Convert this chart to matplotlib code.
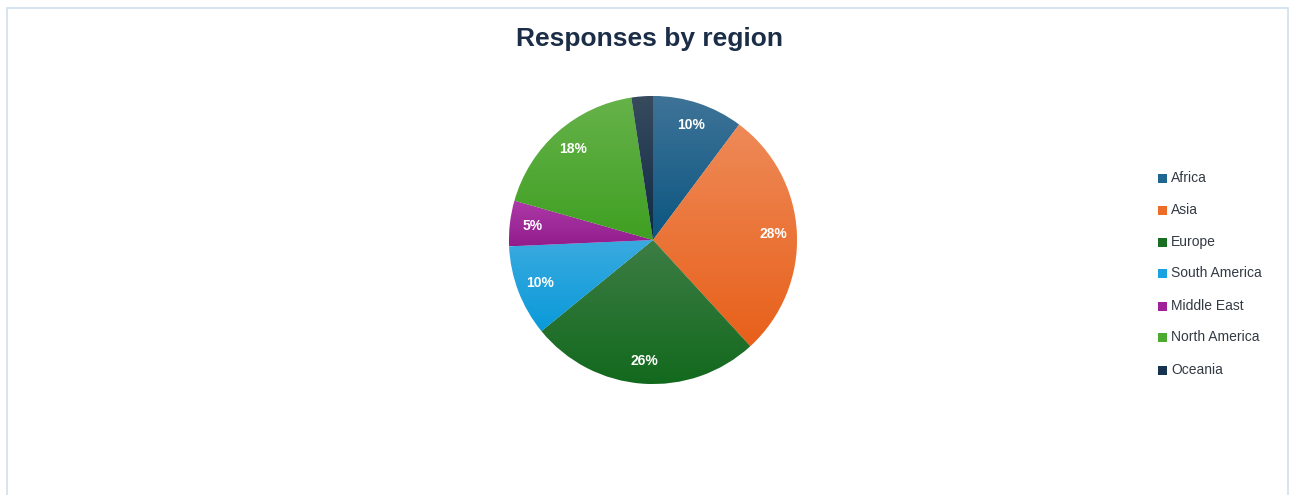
import matplotlib
matplotlib.use("Agg")
import matplotlib.pyplot as plt
import numpy as np
from matplotlib.patches import Rectangle
from matplotlib.colors import to_rgb

regions = ["Africa", "Asia", "Europe", "South America", "Middle East", "North America", "Oceania"]
shares = [10.2, 28.0, 25.9, 10.2, 5.1, 18.2, 2.4]
labels = ["10%", "28%", "26%", "10%", "5%", "18%", ""]
top_colors = ["#3f7398", "#ee8a58", "#3d7d45", "#3aaae0", "#ad3aa8", "#66b24a", "#384b5e"]
bot_colors = ["#0b5680", "#e8601a", "#12691d", "#0a9ad9", "#921c8c", "#3fa022", "#0e2a44"]
legend_colors = ["#1f6690", "#ec6c28", "#1a6e22", "#1aa2e0", "#a0209a", "#4caa30", "#15324e"]

fig = plt.figure(figsize=(12.9, 4.95), dpi=100)
fig.patch.set_facecolor("white")

# border frame
fig.add_artist(Rectangle((7/1290, -0.01), 1281/1290, (495-8)/495 + 0.01, transform=fig.transFigure,
                         fill=False, edgecolor="#cfe0f0", linewidth=1.2))

ax = fig.add_axes([(653-144)/1290, (495-384)/495, 288/1290, 288/495])
wedges, texts = ax.pie(shares, startangle=90, counterclock=False, colors=bot_colors,
                       labels=labels, labeldistance=0.84,
                       wedgeprops=dict(linewidth=0.6, edgecolor="white"),
                       textprops=dict(color="white", fontsize=10, fontweight="bold",
                                      fontstretch="condensed",
                                      family=["Liberation Sans", "DejaVu Sans"]))

# vertical gradient per wedge
for w, tc, bc in zip(wedges, top_colors, bot_colors):
    path = w.get_path()
    verts = w.get_patch_transform().transform(path.vertices)
    x0, x1 = verts[:, 0].min(), verts[:, 0].max()
    y0, y1 = verts[:, 1].min(), verts[:, 1].max()
    t = np.linspace(0, 1, 256)[:, None]
    c0 = np.array(to_rgb(bc)); c1 = np.array(to_rgb(tc))
    grad = (c0[None, :] * (1 - t) + c1[None, :] * t)[:, None, :]
    grad = np.repeat(grad, 2, axis=1)
    im = ax.imshow(grad, extent=[x0, x1, y0, y1], origin="lower", aspect="auto",
                   zorder=w.get_zorder() + 0.1, interpolation="bilinear")
    im.set_clip_path(w)
for t in texts:
    t.set_zorder(5)
    t.set_ha("center")
    t.set_va("center")
ax.set_xlim(-1.0, 1.0)
ax.set_ylim(-1.0, 1.0)
ax.set_aspect("equal")
ax.axis("off")

fig.text(650/1290, 1 - 39/495, "Responses by region", ha="center", va="center",
         fontsize=19, fontweight="bold", color="#1b2d47",
         family=["Liberation Sans", "DejaVu Sans"])

# legend
y_rows = [178, 210, 242, 273, 306, 337, 370]
for name, col, y in zip(regions, legend_colors, y_rows):
    fig.add_artist(Rectangle((1158/1290, 1 - (y + 5)/495), 9/1290, 9/495,
                             transform=fig.transFigure, facecolor=col, edgecolor="none"))
    fig.text(1171/1290, 1 - y/495, name, ha="left", va="center", fontsize=10,
             color="#333a44", fontstretch="condensed",
             family=["Liberation Sans", "DejaVu Sans"])

fig.savefig("out.png", dpi=100)
